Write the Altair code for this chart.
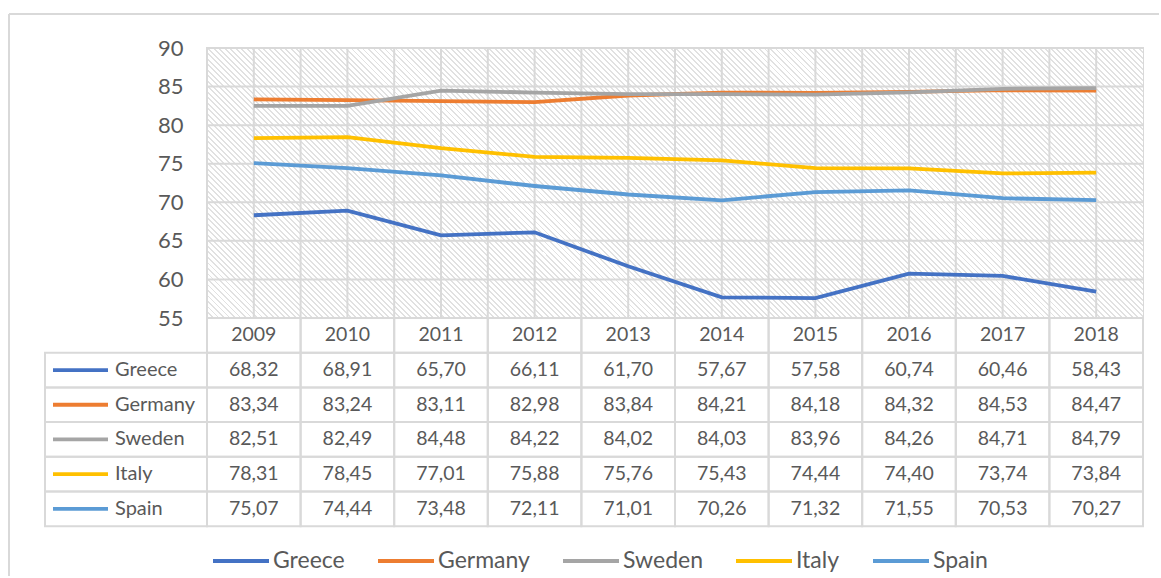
import altair as alt
import pandas as pd

# ---- data -------------------------------------------------------------
YEARS = ["2009", "2010", "2011", "2012", "2013", "2014", "2015", "2016", "2017", "2018"]
SERIES = ["Greece", "Germany", "Sweden", "Italy", "Spain"]
COLORS = ["#4472C4", "#ED7D31", "#A5A5A5", "#FFC000", "#5B9BD5"]

GREECE = [68.32, 68.91, 65.70, 66.11, 61.70, 57.67, 57.58, 60.74, 60.46, 58.43]
GERMANY = [83.34, 83.24, 83.11, 82.98, 83.84, 84.21, 84.18, 84.32, 84.53, 84.47]
SWEDEN = [82.51, 82.49, 84.48, 84.22, 84.02, 84.03, 83.96, 84.26, 84.71, 84.79]
ITALY = [78.31, 78.45, 77.01, 75.88, 75.76, 75.43, 74.44, 74.40, 73.74, 73.84]
SPAIN = [75.07, 74.44, 73.48, 72.11, 71.01, 70.26, 71.32, 71.55, 70.53, 70.27]

Y_TICKS = [55, 60, 65, 70, 75, 80, 85, 90]

# ---- layout -----------------------------------------------------------
PLOT_W, PLOT_H = 936, 270
ROW_H = 34.7
HEADER = "hdr"
ROWS = [HEADER] + SERIES
TABLE_RANGE = [PLOT_H, PLOT_H + ROW_H * len(ROWS)]
GRID = "#d9d9d9"
TEXT = "#595959"
FONT = "Lato"
TABLE_FS = 19.5
LINE_W = 3.8

rows = []
for name, vals in zip(SERIES, [GREECE, GERMANY, SWEDEN, ITALY, SPAIN]):
    for yr, v in zip(YEARS, vals):
        rows.append({"year": yr, "series": name, "row": name, "value": v})
df = pd.DataFrame(rows)
years_df = pd.DataFrame({"year": YEARS, "row": [HEADER] * len(YEARS)})
series_df = pd.DataFrame({"series": SERIES, "row": SERIES})
ticks_df = pd.DataFrame({"tick": Y_TICKS})
one = pd.DataFrame({"k": [0]})


def hatch(width, height, period=5.5, frac=0.35, line="#e1e1e1", bg="#ffffff"):
    """Diagonal '\\' hatch built as a hard-stop linear gradient."""
    span = width + height
    n = int(span / period)
    stops = []
    for i in range(n):
        a, b, c = i / n, (i + frac) / n, (i + 1) / n
        stops += [
            {"offset": a, "color": line},
            {"offset": b, "color": line},
            {"offset": b, "color": bg},
            {"offset": c, "color": bg},
        ]
    k = span / (width ** 2 + height ** 2)
    return {"gradient": "linear", "x1": 0, "y1": 1,
            "x2": k * width, "y2": 1 - k * height, "stops": stops}


X_SCALE = alt.Scale(type="band", domain=YEARS, paddingInner=0, paddingOuter=0)


def x_enc(pos):
    return alt.X("year:N", scale=X_SCALE, axis=None, bandPosition=pos)


Y_SCALE = alt.Scale(domain=[55, 90], nice=False, zero=False)
ROW_BAND = alt.Scale(type="band", domain=ROWS, range=TABLE_RANGE,
                     paddingInner=0, paddingOuter=0)
ROW_POINT = alt.Scale(type="point", domain=ROWS, range=TABLE_RANGE, padding=0.5)

LEGEND = alt.Legend(
    orient="none", legendX=4, legendY=483, direction="horizontal",
    title=None, symbolType="stroke", symbolSize=3136, symbolStrokeWidth=LINE_W,
    labelFontSize=23, labelColor=TEXT, labelFont=FONT, labelOffset=2,
    columnPadding=25, labelLimit=0, padding=0,
)
COLOR = alt.Color("series:N", scale=alt.Scale(domain=SERIES, range=COLORS),
                  legend=LEGEND)

# ---- plot area ---------------------------------------------------------
background = alt.Chart(one).mark_rect(fill=hatch(PLOT_W, PLOT_H)).encode(
    x=alt.value(0), x2=alt.value("width"), y=alt.value(0), y2=alt.value("height")
)

h_grid = alt.Chart(ticks_df).mark_rule(color=GRID, strokeWidth=2).encode(
    y=alt.Y("tick:Q", scale=Y_SCALE, axis=None)
)

v_grid_edges = alt.Chart(years_df).mark_rule(color=GRID, strokeWidth=2).encode(
    x=x_enc(0), y=alt.value(0), y2=alt.value(PLOT_H)
)
v_grid_mid = alt.Chart(years_df).mark_rule(color=GRID, strokeWidth=2).encode(
    x=x_enc(0.5), y=alt.value(0), y2=alt.value(PLOT_H)
)

lines = alt.Chart(df).mark_line(strokeWidth=LINE_W).encode(
    x=x_enc(0.5),
    y=alt.Y("value:Q", scale=Y_SCALE,
            axis=alt.Axis(values=Y_TICKS, grid=False, ticks=False, tickSize=0,
                          domain=False, labelPadding=24, labelFontSize=22,
                          labelColor=TEXT, labelFont=FONT, title=None)),
    color=COLOR,
)

# ---- data table ----------------------------------------------------------
cells = alt.Chart(pd.concat([df[["year", "row"]], years_df])).mark_rect(
    fillOpacity=0, stroke=GRID, strokeWidth=2
).encode(x=x_enc(0), y=alt.Y("row:N", scale=ROW_BAND, axis=None))

values = alt.Chart(df).transform_calculate(
    lbl="replace(format(datum.value, '.2f'), '.', ',')"
).mark_text(fontSize=TABLE_FS, color=TEXT, font=FONT, baseline="middle").encode(
    x=x_enc(0.5), y=alt.Y("row:N", scale=ROW_POINT, axis=None), text="lbl:N"
)

header = alt.Chart(years_df).mark_text(
    fontSize=TABLE_FS, color=TEXT, font=FONT, baseline="middle"
).encode(x=x_enc(0.5), y=alt.Y("row:N", scale=ROW_POINT, axis=None), text="year:N")

name_cells = alt.Chart(series_df).mark_rect(
    fillOpacity=0, stroke=GRID, strokeWidth=2
).encode(x=alt.value(-162), x2=alt.value(0),
         y=alt.Y("row:N", scale=ROW_BAND, axis=None))

name_keys = alt.Chart(series_df).mark_rule(strokeWidth=LINE_W).encode(
    x=alt.value(-154), x2=alt.value(-99),
    y=alt.Y("row:N", scale=ROW_POINT, axis=None), color=COLOR
)

name_labels = alt.Chart(series_df).mark_text(
    fontSize=20, color=TEXT, font=FONT, align="left", baseline="middle"
).encode(x=alt.value(-92), y=alt.Y("row:N", scale=ROW_POINT, axis=None),
         text="series:N")

# ---- outer chart frame (top and left edges) -------------------------------
frame_top = alt.Chart(one).mark_rule(color=GRID, strokeWidth=2).encode(
    x=alt.value(-198), x2=alt.value(952), y=alt.value(-34)
)
frame_left = alt.Chart(one).mark_rule(color=GRID, strokeWidth=2).encode(
    x=alt.value(-198), y=alt.value(-34), y2=alt.value(528)
)

chart = alt.layer(
    frame_top, frame_left,
    background, h_grid, v_grid_edges, v_grid_mid, lines,
    cells, values, header, name_cells, name_keys, name_labels,
).resolve_scale(y="independent").properties(
    width=PLOT_W, height=PLOT_H,
    padding={"left": 8, "top": 13, "right": 0, "bottom": 0},
).configure(font=FONT).configure_view(stroke=GRID, strokeWidth=2)

chart.save("out.html", embed_options={"renderer": "svg", "actions": False})
